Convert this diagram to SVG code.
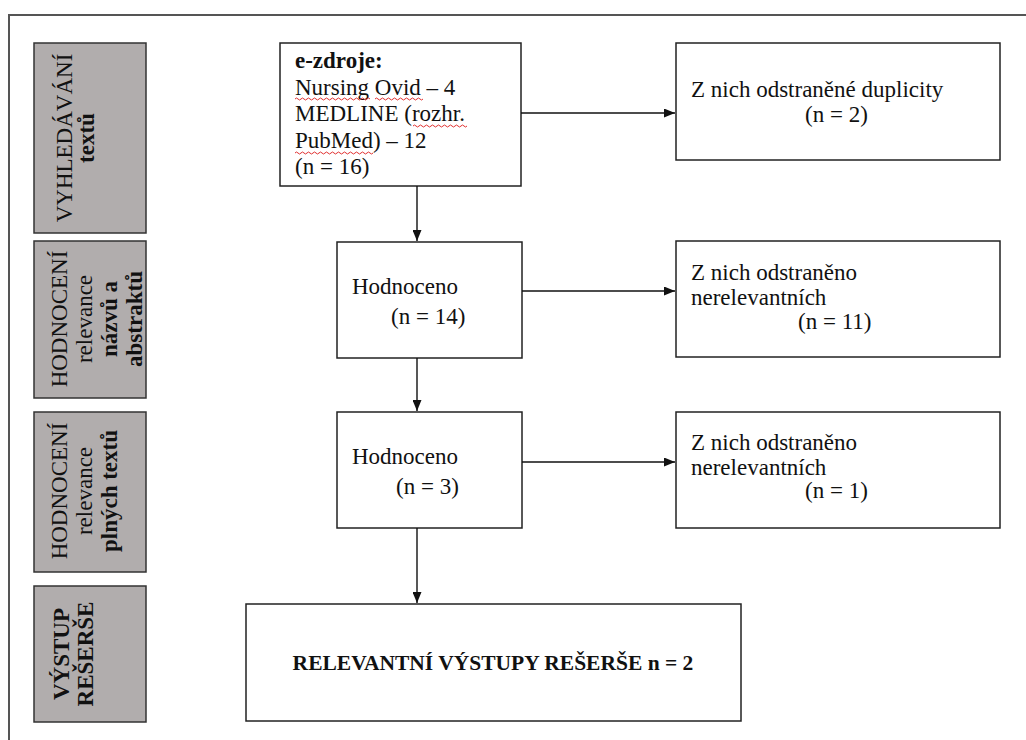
<svg xmlns="http://www.w3.org/2000/svg" width="1026" height="740" viewBox="0 0 1026 740">
<style>
.frame{fill:none;stroke:#555;stroke-width:2}
.side{fill:#b1adad;stroke:#333;stroke-width:1.5}
.box{fill:#fff;stroke:#222;stroke-width:1.5}
text{font-family:"Liberation Serif","Times New Roman",serif;font-size:23px;fill:#111}
.b{font-weight:bold}
.fin{font-weight:bold;font-size:21.5px}
.conn{stroke:#111;stroke-width:1.4;fill:none;marker-end:url(#ah)}
.sq{fill:none;stroke:#e03030;stroke-width:1}
</style>
<defs>
<marker id="ah" markerWidth="11" markerHeight="9" refX="11" refY="4.5" orient="auto" markerUnits="userSpaceOnUse"><path d="M0,0 L11,4.5 L0,9 z" fill="#111"/></marker>
</defs>
<rect width="1026" height="740" fill="#fff"/>
<rect class="frame" x="9" y="15" width="1030" height="740"/>

<g id="side1"><rect class="side" x="34" y="43" width="112" height="190"/>
<text transform="translate(72,138) rotate(-90)" text-anchor="middle">VYHLEDÁVÁNÍ</text>
<text class="b" transform="translate(94,138) rotate(-90)" text-anchor="middle">textů</text></g>
<g id="side2"><rect class="side" x="34" y="241" width="112" height="157"/>
<text transform="translate(67,319) rotate(-90)" text-anchor="middle">HODNOCENÍ</text>
<text transform="translate(92,319) rotate(-90)" text-anchor="middle">relevance</text>
<text class="b" transform="translate(117,319) rotate(-90)" text-anchor="middle">názvů a</text>
<text class="b" transform="translate(142,319) rotate(-90)" text-anchor="middle">abstraktů</text></g>
<g id="side3"><rect class="side" x="34" y="412" width="112" height="160"/>
<text transform="translate(67,491) rotate(-90)" text-anchor="middle">HODNOCENÍ</text>
<text transform="translate(92,491) rotate(-90)" text-anchor="middle">relevance</text>
<text class="b" transform="translate(117,491) rotate(-90)" text-anchor="middle">plných textů</text></g>
<g id="side4"><rect class="side" x="34" y="586" width="112" height="136"/>
<text class="b" transform="translate(69,654) rotate(-90)" text-anchor="middle">VÝSTUP</text>
<text class="b" transform="translate(93,654) rotate(-90)" text-anchor="middle">REŠERŠE</text></g>

<g id="ezdroje"><rect class="box" x="280" y="43" width="241" height="143"/>
<text class="b" x="295" y="68">e-zdroje:</text>
<text x="295" y="94.5">Nursing Ovid – 4</text>
<text x="295" y="121">MEDLINE (rozhr.</text>
<text x="295" y="147.5">PubMed) – 12</text>
<text x="295" y="174">(n = 16)</text>
<path class="sq" d="M295,99 q1.5,-2 3,0 t3,0 t3,0 t3,0 t3,0 t3,0 t3,0 t3,0 t3,0 t3,0 t3,0 t3,0 t3,0 t3,0 t3,0 t3,0 t3,0 t3,0 t3,0 t3,0 t3,0 t3,0 t3,0 t3,0 t3,0"/>
<path class="sq" d="M375,99 q1.5,-2 3,0 t3,0 t3,0 t3,0 t3,0 t3,0 t3,0 t3,0 t3,0 t3,0 t3,0 t3,0 t3,0 t3,0 t3,0 t3,0"/>
<path class="sq" d="M413,126 q1.5,-2 3,0 t3,0 t3,0 t3,0 t3,0 t3,0 t3,0 t3,0 t3,0 t3,0 t3,0 t3,0 t3,0 t3,0 t3,0 t3,0 t3,0 t3,0"/>
<path class="sq" d="M295,153 q1.5,-2 3,0 t3,0 t3,0 t3,0 t3,0 t3,0 t3,0 t3,0 t3,0 t3,0 t3,0 t3,0 t3,0 t3,0 t3,0 t3,0 t3,0 t3,0 t3,0 t3,0 t3,0 t3,0 t3,0 t3,0 t3,0 t3,0"/></g>

<g id="dup"><rect class="box" x="676" y="43" width="324" height="117"/>
<text x="691" y="97">Z nich odstraněné duplicity</text>
<text x="805" y="122">(n = 2)</text></g>

<g id="hod1"><rect class="box" x="337" y="242" width="185" height="116"/>
<text x="352" y="294">Hodnoceno</text>
<text x="391" y="324">(n = 14)</text></g>

<g id="nerel1"><rect class="box" x="676" y="241" width="324" height="116"/>
<text x="691" y="280">Z nich odstraněno</text>
<text x="691" y="305">nerelevantních</text>
<text x="798" y="329">(n = 11)</text></g>

<g id="hod2"><rect class="box" x="337" y="412" width="185" height="116"/>
<text x="352" y="464">Hodnoceno</text>
<text x="396" y="494">(n = 3)</text></g>

<g id="nerel2"><rect class="box" x="676" y="412" width="324" height="116"/>
<text x="691" y="450">Z nich odstraněno</text>
<text x="691" y="475">nerelevantních</text>
<text x="805" y="498">(n = 1)</text></g>

<g id="final"><rect class="box" x="246" y="604" width="495" height="117"/>
<text class="fin" x="493" y="670" text-anchor="middle">RELEVANTNÍ VÝSTUPY REŠERŠE n = 2</text></g>

<g id="connectors">
<path class="conn" d="M521,113 L675,113"/>
<path class="conn" d="M417,186 L417,241"/>
<path class="conn" d="M522,291 L675,291"/>
<path class="conn" d="M417,358 L417,411"/>
<path class="conn" d="M522,462 L675,462"/>
<path class="conn" d="M417,528 L417,603"/>
</g>
</svg>
